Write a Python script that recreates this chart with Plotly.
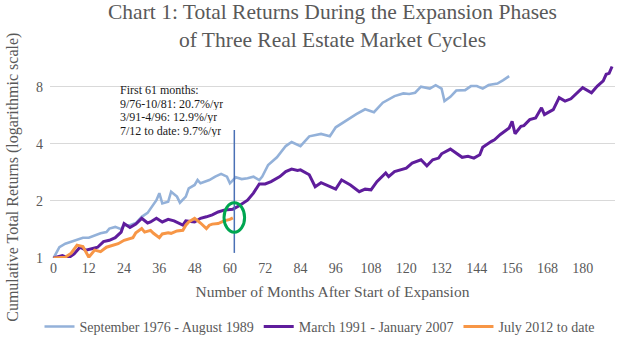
import plotly.graph_objects as go

# Series 1: September 1976 - August 1989 (cumulative total return index)
months_7689 = [0, 2, 4, 7, 10, 12, 14, 16, 18, 19, 21, 23, 24, 26, 28, 30, 32, 33, 35, 36,
               37, 39, 40, 42, 43, 45, 46, 48, 49, 50, 53, 55, 57, 59, 60, 62, 64, 66, 68, 70,
               71, 73, 76, 79, 81, 84, 87, 91, 94, 96, 100, 103, 106, 109, 112, 116, 119, 121,
               123, 125, 128, 130, 132, 133, 135, 137, 140, 142, 144, 146, 148, 151, 153, 155]
values_7689 = [1.00, 1.14, 1.19, 1.23, 1.28, 1.28, 1.32, 1.35, 1.37, 1.43, 1.46, 1.42, 1.49, 1.49,
               1.53, 1.65, 1.73, 1.83, 2.02, 2.20, 1.94, 1.98, 2.24, 2.11, 1.96, 2.11, 2.33, 2.43,
               2.58, 2.48, 2.58, 2.69, 2.78, 2.69, 2.48, 2.67, 2.61, 2.64, 2.69, 2.58, 2.69, 3.10,
               3.40, 3.90, 4.10, 3.90, 4.39, 4.52, 4.40, 4.90, 5.40, 5.75, 6.10, 5.89, 6.61, 7.16,
               7.40, 7.35, 7.46, 8.03, 7.84, 8.18, 7.85, 6.74, 7.10, 7.66, 7.70, 8.09, 8.09, 7.84,
               8.19, 8.34, 8.70, 9.13]

# Series 2: March 1991 - January 2007
months_9107 = [0, 3, 5, 7, 9, 11, 13, 15, 17, 19, 21, 23, 24, 26, 28, 30, 32, 33, 35, 37, 39, 41,
               44, 45, 48, 50, 52, 54, 56, 58, 61, 63, 66, 68, 70, 72, 74, 77, 79, 81, 83, 84, 87,
               89, 91, 93, 96, 98, 101, 104, 106, 108, 110, 113, 114, 116, 118, 120, 122, 125,
               127, 129, 131, 132, 135, 137, 139, 141, 143, 145, 146, 149, 150, 152, 155, 156,
               157, 159, 160, 162, 164, 166, 167, 168, 170, 172, 174, 176, 178, 180, 183, 185,
               187, 188, 189, 190]
values_9107 = [1.00, 1.03, 1.00, 1.05, 1.14, 1.10, 1.12, 1.14, 1.22, 1.24, 1.28, 1.37, 1.52, 1.45,
               1.51, 1.62, 1.53, 1.55, 1.62, 1.55, 1.60, 1.57, 1.49, 1.57, 1.55, 1.62, 1.65, 1.69,
               1.75, 1.79, 1.81, 1.88, 2.02, 2.20, 2.46, 2.46, 2.53, 2.69, 2.86, 2.95, 2.90, 2.92,
               2.75, 2.38, 2.50, 2.43, 2.31, 2.58, 2.43, 2.24, 2.31, 2.29, 2.53, 2.81, 2.69, 2.86,
               2.92, 2.98, 3.17, 3.30, 3.07, 3.30, 3.37, 3.55, 3.76, 3.58, 3.40, 3.44, 3.37, 3.51,
               3.85, 4.13, 4.21, 4.49, 4.86, 5.27, 4.53, 4.96, 5.00, 5.38, 5.49, 6.21, 5.72, 5.84,
               6.08, 7.03, 6.74, 6.93, 7.46, 7.93, 7.46, 8.09, 8.62, 9.33, 9.44, 10.26]

# Series 3: July 2012 to date
months_12 = [0, 4, 6, 8, 10, 11, 12, 14, 16, 18, 20, 22, 24, 27, 28, 30, 31, 33, 34, 36, 37, 39,
             40, 42, 44, 45, 46, 48, 50, 52, 53, 54, 56, 58, 60, 61]
values_12 = [1.00, 1.01, 1.06, 1.17, 1.15, 1.08, 1.01, 1.10, 1.08, 1.14, 1.17, 1.19, 1.24, 1.28,
             1.36, 1.43, 1.37, 1.40, 1.35, 1.28, 1.34, 1.36, 1.35, 1.39, 1.40, 1.49, 1.55, 1.62,
             1.53, 1.43, 1.49, 1.51, 1.52, 1.57, 1.60, 1.63]

series_names = ["September 1976 - August 1989", "March 1991 - January 2007", "July 2012 to date"]
note_lines = ["First 61 months:", "9/76-10/81: 20.7%/yr", "3/91-4/96: 12.9%/yr",
              "7/12 to date: 9.7%/yr"]
x_ticks = list(range(0, 181, 12))
y_ticks = [1, 2, 4, 8]

FONT = "Liberation Serif"
GREY = "#595959"

fig = go.Figure()
fig.add_trace(go.Scatter(x=months_7689, y=values_7689, mode="lines", name=series_names[0],
                         line=dict(color="#93b1d9", width=2.6)))
fig.add_trace(go.Scatter(x=months_9107, y=values_9107, mode="lines", name=series_names[1],
                         line=dict(color="#5f1d9c", width=3)))
fig.add_trace(go.Scatter(x=months_12, y=values_12, mode="lines", name=series_names[2],
                         line=dict(color="#f79646", width=3)))

# marker line at 61 months and circle around the current cycle's end point
fig.add_shape(type="line", xref="x", yref="paper", x0=61.5, x1=61.5, y0=0.026, y1=0.653,
              line=dict(color="#4a70b5", width=1.5))
fig.add_shape(type="circle", xref="x", yref="paper", x0=58.0, x1=65.0, y0=0.132, y1=0.282,
              line=dict(color="#00a651", width=3))

# note block, one annotation per line for tight spacing
for i, line in enumerate(note_lines):
    fig.add_annotation(xref="paper", yref="paper", x=0.122, y=0.855 - i * 0.069,
                       xanchor="left", yanchor="middle", showarrow=False, text=line,
                       height=12, borderpad=0,
                       font=dict(family=FONT, size=12, color="#1a1a1a"))

fig.add_annotation(xref="paper", yref="paper", x=-0.067, y=0.41, xanchor="center", yanchor="middle",
                   textangle=-90, showarrow=False,
                   text="Cumulative Total Returns (logarithmic scale)",
                   font=dict(family=FONT, size=16, color=GREY))

fig.add_annotation(xref="paper", yref="paper", x=0.5, y=1.184, xanchor="center", yanchor="middle",
                   showarrow=False,
                   text="Chart 1: Total Returns During the Expansion Phases<br>of Three Real Estate Market Cycles",
                   font=dict(family=FONT, size=21.5, color=GREY))

fig.update_layout(
    width=640, height=343,
    margin=dict(l=50, r=25, t=62, b=85, autoexpand=False),
    paper_bgcolor="white", plot_bgcolor="white",
    font=dict(family=FONT, color=GREY),
    showlegend=True,
    legend=dict(orientation="h", x=0.5, xanchor="center", xref="container",
                y=0.047, yanchor="middle", yref="container",
                font=dict(family=FONT, size=14, color=GREY), itemwidth=30,
                tracegroupgap=0),
    xaxis=dict(range=[-1.2, 191], tickmode="array", tickvals=x_ticks, showgrid=False,
               zeroline=False, showline=False, ticks="", automargin=False,
               tickfont=dict(family=FONT, size=14, color=GREY),
               title=dict(text="Number of Months After Start of Expansion", standoff=11,
                          font=dict(family=FONT, size=15.5, color=GREY))),
    yaxis=dict(type="log", range=[0, 1.035], tickmode="array", tickvals=y_ticks,
               ticktext=[str(v) for v in y_ticks], showgrid=True, gridcolor="#d9d9d9",
               gridwidth=1, zeroline=False, showline=False, ticks="", automargin=False,
               tickfont=dict(family=FONT, size=14, color=GREY), ticklabelstandoff=6),
)

fig.write_html("out.html")
